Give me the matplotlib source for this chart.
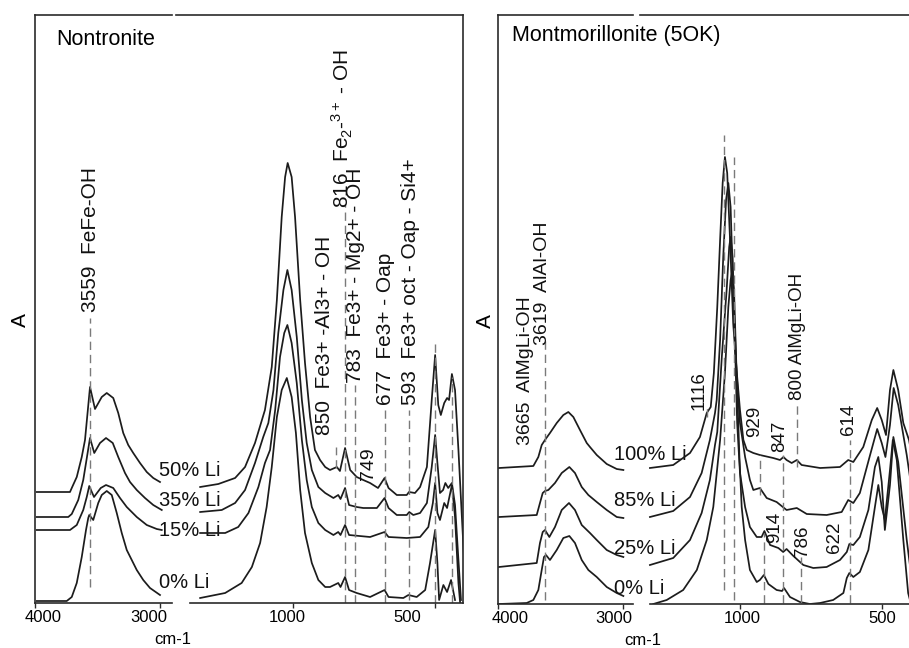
import matplotlib
matplotlib.use("Agg")
import matplotlib.pyplot as plt

plt.rcParams['font.family'] = 'Liberation Sans'
plt.rcParams['mathtext.fontset'] = 'custom'
plt.rcParams['mathtext.rm'] = 'Liberation Sans'
plt.rcParams['mathtext.it'] = 'Liberation Sans:italic'
plt.rcParams['mathtext.default'] = 'regular'

# ---- Nontronite, OH stretching region: (wavenumber, absorbance) ----
non_oh_50 = [(3986, 111), (3720, 111), (3706, 115), (3666, 126), (3626, 146), (3600, 163), (3560, 216),
             (3520, 194), (3466, 206), (3426, 210), (3374, 205), (3334, 190), (3294, 170), (3254, 158),
             (3214, 150), (3160, 140), (3106, 131), (3054, 125), (3000, 121)]
non_oh_35 = [(3986, 86), (3734, 86), (3706, 89), (3654, 103), (3614, 123), (3592, 140), (3560, 165),
             (3526, 150), (3480, 160), (3432, 165), (3378, 160), (3334, 146), (3280, 130), (3240, 121),
             (3186, 113), (3120, 105), (3054, 98), (2986, 93)]
non_oh_15 = [(3986, 73), (3720, 73), (3666, 78), (3614, 93), (3586, 106), (3566, 117), (3528, 106),
             (3474, 115), (3432, 118), (3374, 115), (3320, 105), (3266, 96), (3186, 86), (3106, 78),
             (3026, 74), (2986, 73)]
non_oh_0 = [(3986, 2), (3746, 2), (3706, 6), (3666, 20), (3626, 46), (3592, 73), (3574, 85), (3566, 88),
            (3534, 83), (3494, 100), (3466, 108), (3426, 112), (3386, 108), (3346, 90), (3306, 70),
            (3266, 53), (3226, 43), (3186, 33), (3134, 23), (3080, 15), (3000, 8)]

# ---- Nontronite, 1330-400 cm-1 ----
non_fp_50 = [(1327, 116), (1263, 119), (1204, 125), (1169, 136), (1134, 160), (1099, 193), (1075, 236),
             (1057, 303), (1040, 386), (1028, 426), (1019, 440), (1005, 426), (993, 386), (975, 303),
             (958, 240), (940, 186), (923, 153), (905, 143), (887, 136), (870, 133), (846, 136), (835, 132),
             (817, 155), (799, 133), (776, 126), (753, 123), (729, 120), (701, 115), (678, 125), (664, 115),
             (635, 108), (600, 108), (592, 111), (571, 110), (553, 116), (529, 136), (512, 203), (500, 248),
             (489, 198), (480, 188), (468, 200), (458, 205), (451, 203), (441, 229), (430, 213), (418, 153),
             (409, 103), (398, 43)]
non_fp_35 = [(1327, 91), (1251, 93), (1204, 100), (1169, 113), (1134, 140), (1105, 166), (1087, 180),
             (1069, 213), (1052, 270), (1034, 313), (1020, 333), (1005, 313), (987, 266), (969, 203),
             (952, 160), (934, 133), (911, 116), (887, 110), (858, 105), (841, 108), (833, 104), (817, 115),
             (803, 98), (776, 96), (753, 95), (705, 95), (678, 105), (664, 95), (635, 88), (600, 88),
             (591, 91), (577, 88), (553, 90), (529, 100), (512, 136), (500, 168), (492, 140), (483, 110),
             (472, 113), (464, 120), (454, 115), (441, 120), (430, 98), (418, 43), (409, 3)]
non_fp_15 = [(1327, 70), (1239, 70), (1193, 76), (1157, 90), (1122, 116), (1099, 140), (1081, 153),
             (1063, 193), (1046, 246), (1031, 270), (1020, 278), (1005, 260), (987, 220), (969, 163),
             (952, 123), (934, 96), (911, 80), (887, 73), (858, 68), (841, 71), (833, 68), (817, 78),
             (803, 68), (729, 66), (678, 71), (664, 66), (600, 65), (553, 66), (524, 76), (508, 100),
             (500, 120), (492, 90), (483, 83), (468, 100), (458, 95), (441, 118), (430, 86), (418, 20),
             (412, 0)]
non_fp_0 = [(1327, 5), (1239, 10), (1181, 20), (1145, 36), (1116, 60), (1093, 96), (1075, 136), (1057, 186),
            (1040, 213), (1022, 225), (1005, 206), (990, 170), (975, 113), (958, 70), (934, 40), (911, 23),
            (887, 16), (870, 16), (841, 20), (833, 16), (817, 26), (803, 13), (776, 10), (729, 6), (678, 13),
            (664, 6), (612, 5), (594, 8), (565, 6), (535, 13), (518, 40), (500, 73), (492, 40), (486, 3),
            (471, 18), (458, 11), (444, 23), (430, 3)]

# ---- Montmorillonite, OH stretching region ----
mont_oh_100 = [(3990, 136), (3715, 138), (3675, 147), (3648, 159), (3622, 164), (3582, 171), (3528, 181),
               (3475, 189), (3435, 192), (3395, 187), (3342, 174), (3288, 161), (3262, 157), (3208, 149),
               (3128, 140), (3048, 135), (2995, 134)]
mont_oh_85 = [(3990, 87), (3688, 89), (3662, 101), (3640, 111), (3622, 113), (3595, 114), (3542, 121),
              (3488, 131), (3427, 137), (3382, 131), (3328, 117), (3275, 109), (3208, 102), (3128, 94),
              (3048, 87), (2995, 86)]
mont_oh_25 = [(3990, 37), (3688, 41), (3662, 61), (3640, 72), (3622, 74), (3587, 67), (3542, 77),
              (3488, 94), (3430, 101), (3382, 94), (3328, 79), (3262, 71), (3208, 64), (3128, 54),
              (3048, 49), (2995, 47)]
mont_oh_0 = [(3990, 0), (3768, 1), (3715, 4), (3675, 14), (3648, 34), (3630, 47), (3614, 49), (3582, 44),
             (3528, 54), (3475, 66), (3427, 68), (3382, 61), (3328, 44), (3275, 34), (3208, 27),
             (3128, 17), (3048, 11), (2995, 8)]

# ---- Montmorillonite, 1320-400 cm-1 ----
mont_fp_100 = [(1317, 136), (1235, 139), (1176, 151), (1141, 167), (1117, 191), (1103, 197), (1092, 231),
               (1080, 297), (1070, 364), (1061, 421), (1053, 447), (1045, 431), (1035, 364), (1024, 281),
               (1012, 234), (1000, 194), (988, 164), (976, 154), (953, 151), (930, 149), (883, 146),
               (859, 144), (847, 147), (836, 144), (818, 141), (800, 144), (783, 139), (718, 136),
               (648, 137), (619, 144), (601, 142), (566, 157), (536, 184), (517, 196), (501, 184),
               (486, 169), (472, 214), (460, 234), (443, 214), (425, 181), (405, 164), (395, 149)]
mont_fp_85 = [(1317, 87), (1235, 93), (1176, 107), (1135, 131), (1106, 164), (1088, 191), (1082, 204),
              (1070, 264), (1059, 347), (1049, 404), (1041, 421), (1033, 397), (1024, 314), (1012, 231),
              (1000, 181), (982, 147), (965, 124), (953, 114), (930, 116), (906, 106), (871, 102),
              (836, 94), (800, 96), (765, 90), (695, 89), (642, 92), (619, 104), (601, 101), (578, 111),
              (542, 149), (517, 175), (501, 161), (488, 147), (472, 179), (459, 216), (443, 199),
              (413, 149), (395, 114)]
mont_fp_25 = [(1317, 39), (1235, 46), (1176, 64), (1135, 91), (1106, 124), (1088, 159), (1080, 172),
              (1064, 247), (1047, 314), (1038, 357), (1033, 367), (1026, 347), (1018, 264), (1010, 181),
              (1000, 131), (982, 97), (965, 77), (941, 67), (924, 67), (914, 73), (894, 59), (865, 56),
              (848, 52), (836, 55), (812, 48), (777, 39), (742, 36), (695, 37), (648, 44), (624, 52),
              (615, 60), (601, 59), (578, 67), (548, 94), (525, 137), (513, 147), (501, 122), (490, 74),
              (472, 119), (460, 167), (443, 142), (413, 64), (395, 24)]
mont_fp_0 = [(1305, 0), (1258, 4), (1200, 14), (1152, 34), (1117, 64), (1094, 97), (1070, 164), (1053, 231),
             (1041, 297), (1033, 324), (1028, 331), (1021, 314), (1012, 231), (1002, 147), (994, 97),
             (982, 64), (965, 34), (941, 22), (930, 24), (916, 29), (900, 20), (871, 14), (852, 13),
             (845, 16), (824, 7), (789, 2), (754, 0), (718, 1), (672, 4), (636, 11), (624, 26), (615, 31),
             (601, 27), (578, 32), (548, 54), (525, 97), (513, 119), (501, 97), (490, 84), (472, 134),
             (462, 164), (448, 144), (425, 64), (408, 11), (398, 0)]

# dashed marker lines: (wavenumber, bottom, top)
non_marks_oh = [(3559, 16, 285)]
non_marks_fp = [(850, 135, 156), (816, 0, 398), (783, 0, 218), (677, 0, 193), (593, 3, 193),
                (499, 0, 263), (442, 0, 226)]
mont_marks_oh = [(3619, 4, 264)]
mont_marks_fp = [(1116, 187, 199), (1055, 14, 469), (1021, 4, 447), (929, 109, 149), (914, 1, 71),
                 (847, 1, 149), (800, 137, 202), (786, 1, 47), (614, 1, 164)]

# band assignments: (wavenumber, absorbance at label foot, text)
non_labels_oh = [(3552, 291, '3559  FeFe-OH')]
non_labels_fp = [(888, 168, '850  Fe3+ -Al3+ - OH'), (826, 395, '816  Fe$_2$-$^{3+}$ - OH'),
                 (782, 220, '783  Fe3+ - Mg2+ - OH'), (676, 198, '677  Fe3+ - Oap'),
                 (588, 198, '593  Fe3+ oct - Oap - Si4+')]
non_small_labels = [(736, 123, '749')]
mont_labels_oh = [(3774, 159, '3665  AlMgLi-OH'), (3638, 259, '3619  AlAl-OH')]
mont_labels_fp = [(1143, 194, '1116'), (947, 167, '929'), (859, 152, '847'), (799, 204, '800 AlMgLi-OH'),
                  (619, 169, '614'), (879, 61, '914'), (780, 47, '786'), (668, 51, '622')]

non_series = ['50% Li', '35% Li', '15% Li', '0% Li']
non_series_y = [132, 102, 73, 20]
mont_series = ['100% Li', '85% Li', '25% Li', '0% Li']
mont_series_y = [149, 104, 55, 16]

W, H = 909, 648
fig = plt.figure(figsize=(W / 100, H / 100), dpi=100)
LINE = '#1c1c1c'
DASH = '#7a7a7a'


def px_axes(x0, x1, y0, y1):
    ax = fig.add_axes([x0 / W, 1 - y1 / H, (x1 - x0) / W, (y1 - y0) / H])
    ax.patch.set_visible(False)
    ax.set_yticks([])
    for s in ax.spines.values():
        s.set_color('#2a2a2a')
        s.set_linewidth(1.2)
    return ax


def setup(ax, xlim, ylim, major, label_pos, labels, hide):
    ax.set_xlim(*xlim)
    ax.set_ylim(*ylim)
    ax.xaxis.remove_overlapping_locs = False
    ax.set_xticks(major, [''] * len(major))
    ax.set_xticks(label_pos, labels, minor=True)
    ax.tick_params(axis='x', which='major', direction='out', length=3.5, width=1, color='#2a2a2a')
    ax.tick_params(axis='x', which='minor', length=0, pad=5, labelsize=12)
    for s in hide:
        ax.spines[s].set_visible(False)


def draw(ax, curves, marks):
    for c in curves:
        wn, a = zip(*c)
        ax.plot(wn, a, color=LINE, lw=1.25, solid_joinstyle='round')
    for wn, lo, hi in marks:
        ax.vlines(wn, lo, hi, colors=DASH, linestyles=(0, (6, 3.5)), lw=1.0)


def rot_labels(ax, labels, size):
    for wn, a, s in labels:
        ax.text(wn, a, s, rotation=90, ha='center', va='bottom', fontsize=size, color='#111111')


# ---------------- Nontronite ----------------
L1 = px_axes(35, 172, 15, 603)
L2 = px_axes(176, 462.7, 15, 603)
setup(L1, (4000, 2904), (0, 588), [4000, 3000], [3936, 3088], ['4000', '3000'], ['right'])
setup(L2, (1412, 403), (0, 588), [1000, 500], [1021, 599], ['1000', '500'], ['left'])
L2.spines['bottom'].set_bounds(1363, 403)

draw(L1, [non_oh_50, non_oh_35, non_oh_15, non_oh_0], non_marks_oh)
draw(L2, [non_fp_50, non_fp_35, non_fp_15, non_fp_0], non_marks_fp)
rot_labels(L1, non_labels_oh, 15)
rot_labels(L2, non_labels_fp, 15)
rot_labels(L2, non_small_labels, 14)
for s, y in zip(non_series, non_series_y):
    L1.text(3008, y, s, ha='left', va='center', fontsize=14.5, color='#111111')

L1.text(0.153, 0.9575, 'Nontronite', transform=L1.transAxes, ha='left', va='center', fontsize=15.5)
L1.text(-0.109, 0.481, 'A', transform=L1.transAxes, rotation=90, ha='center', va='center', fontsize=15)
L1.text(1.007, -0.074, 'cm-1', transform=L1.transAxes, ha='center', va='bottom', fontsize=12)

# ---------------- Montmorillonite ----------------
R1 = px_axes(497.7, 633, 15, 604)
R2 = px_axes(640, 909, 15, 604)
setup(R1, (4000, 2918), (0, 589), [4000, 3000], [3902, 3070], ['4000', '3000'], ['right'])
setup(R2, (1352, 405), (0, 589), [1000, 500], [993, 500], ['1000', '500'], ['left', 'right'])
R2.spines['bottom'].set_bounds(1317, 405)

draw(R1, [mont_oh_100, mont_oh_85, mont_oh_25, mont_oh_0], mont_marks_oh)
draw(R2, [mont_fp_100, mont_fp_85, mont_fp_25, mont_fp_0], mont_marks_fp)
rot_labels(R1, mont_labels_oh, 14)
rot_labels(R2, mont_labels_fp, 13.5)
for s, y in zip(mont_series, mont_series_y):
    R1.text(3070, y, s, ha='left', va='center', fontsize=14.5, color='#111111')

R1.text(0.106, 0.966, 'Montmorillonite (5OK)', transform=R1.transAxes, ha='left', va='center',
        fontsize=15.5)
R1.text(-0.09, 0.48, 'A', transform=R1.transAxes, rotation=90, ha='center', va='center', fontsize=15)
R1.text(1.074, -0.074, 'cm-1', transform=R1.transAxes, ha='center', va='bottom', fontsize=12)

fig.savefig('out.png', dpi=100)
